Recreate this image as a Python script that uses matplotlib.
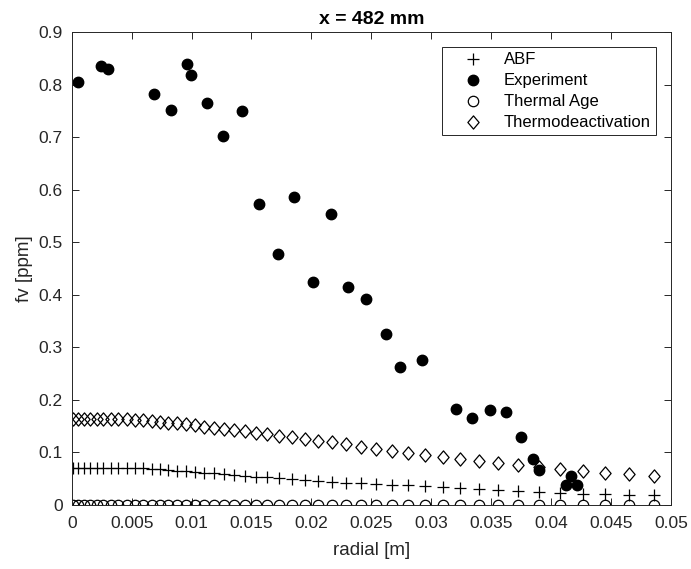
import matplotlib.pyplot as plt
from matplotlib.path import Path

# measured experiment points
exp_r = [0.00055, 0.00242, 0.00305, 0.00684, 0.00828, 0.00959, 0.00995, 0.01129,
         0.01262, 0.01418, 0.01565, 0.01724, 0.01857, 0.02016, 0.02161, 0.02305,
         0.02453, 0.0262, 0.02741, 0.02923, 0.03204, 0.03337, 0.03492, 0.03623,
         0.03749, 0.03849, 0.03899, 0.04121, 0.04166, 0.04218]
exp_fv = [0.806, 0.836, 0.830, 0.783, 0.752, 0.839, 0.818, 0.766,
          0.703, 0.750, 0.573, 0.478, 0.587, 0.425, 0.555, 0.4145,
          0.393, 0.325, 0.262, 0.277, 0.182, 0.166, 0.181, 0.1765,
          0.129, 0.087, 0.066, 0.039, 0.0546, 0.039]

# simulation grid
sim_r = [0.0001, 0.00055, 0.00103, 0.00153, 0.00209, 0.00264, 0.00325, 0.00389,
         0.00459, 0.00528, 0.00598, 0.00667, 0.00737, 0.00806, 0.00881, 0.00954,
         0.01029, 0.01106, 0.01187, 0.01271, 0.01357, 0.01446, 0.01538, 0.01632,
         0.01732, 0.0184, 0.01946, 0.02057, 0.02169, 0.02289, 0.02414, 0.02537,
         0.0267, 0.02808, 0.02948, 0.03095, 0.0324, 0.03398, 0.03559, 0.03726,
         0.03901, 0.04074, 0.04263, 0.04452, 0.04652, 0.04856]
abf = [0.0711, 0.0711, 0.0711, 0.0711, 0.0711, 0.0711, 0.0711, 0.0711,
       0.0711, 0.0708, 0.0698, 0.0690, 0.0679, 0.0666, 0.0654, 0.0640,
       0.0628, 0.0613, 0.0600, 0.0588, 0.0571, 0.0558, 0.0541, 0.0525,
       0.0508, 0.0492, 0.0476, 0.0460, 0.0444, 0.0425, 0.0412, 0.0405,
       0.0390, 0.0374, 0.0362, 0.0343, 0.0330, 0.0305, 0.0286, 0.0267,
       0.0248, 0.0228, 0.0216, 0.0209, 0.0197, 0.0190]
thermal_age = [0.0] * len(sim_r)
thermodeact = [0.1644, 0.1644, 0.1644, 0.1644, 0.1644, 0.1644, 0.1631, 0.1631,
               0.1631, 0.1618, 0.1618, 0.1599, 0.1587, 0.1568, 0.1555, 0.1536,
               0.1517, 0.1492, 0.1473, 0.1454, 0.1428, 0.1403, 0.1378, 0.1352,
               0.1320, 0.1289, 0.1257, 0.1225, 0.1193, 0.1161, 0.1110, 0.1072,
               0.1034, 0.0984, 0.0952, 0.0908, 0.0876, 0.0838, 0.0794, 0.0756,
               0.0718, 0.0685, 0.0647, 0.0615, 0.0584, 0.0552]

xticks = [0, 0.005, 0.01, 0.015, 0.02, 0.025, 0.03, 0.035, 0.04, 0.045, 0.05]
xtick_labels = ['0', '0.005', '0.01', '0.015', '0.02', '0.025', '0.03', '0.035', '0.04', '0.045', '0.05']
yticks = [0, 0.1, 0.2, 0.3, 0.4, 0.5, 0.6, 0.7, 0.8, 0.9]
ytick_labels = ['0', '0.1', '0.2', '0.3', '0.4', '0.5', '0.6', '0.7', '0.8', '0.9']

plt.rcParams['font.family'] = ['Liberation Sans', 'DejaVu Sans']
dark = '#262626'

# matlab style diamond (a bit taller than wide)
diamond = Path([(0, 1), (0.85, 0), (0, -1), (-0.85, 0), (0, 1)],
               [Path.MOVETO, Path.LINETO, Path.LINETO, Path.LINETO, Path.CLOSEPOLY])

fig = plt.figure(figsize=(6.91, 5.69), dpi=100)
ax = fig.add_axes([0.1038, 0.1125, 0.8672, 0.8307])

ax.plot(sim_r, abf, linestyle='none', marker='+', markersize=8, mew=0.9, color='k', label='ABF')
ax.plot(exp_r, exp_fv, linestyle='none', marker='o', markersize=7.5, color='k', label='Experiment')
ax.plot(sim_r, thermal_age, linestyle='none', marker='o', markersize=7.5, mew=0.9,
        mfc='none', color='k', label='Thermal Age')
ax.plot(sim_r, thermodeact, linestyle='none', marker=diamond, markersize=9.5, mew=0.9,
        mfc='none', color='k', label='Thermodeactivation')

ax.set_xlim(0, 0.05)
ax.set_ylim(0, 0.9)
ax.set_xticks(xticks)
ax.set_xticklabels(xtick_labels)
ax.set_yticks(yticks)
ax.set_yticklabels(ytick_labels)
ax.tick_params(direction='in', length=5, width=0.7, top=True, right=True,
               labelsize=12.5, colors=dark)
ax.tick_params(axis='x', pad=8)
ax.tick_params(axis='y', pad=6.5)
for s in ax.spines.values():
    s.set_color(dark)
    s.set_linewidth(0.7)

ax.set_xlabel('radial [m]', fontsize=13.5, color=dark, labelpad=8)
ax.set_ylabel('fv [ppm]', fontsize=13.5, color=dark, labelpad=4)
ax.set_title('x = 482 mm', fontsize=14, fontweight='bold', pad=6)

leg = ax.legend(loc='upper right', bbox_to_anchor=(0.975, 0.968), borderaxespad=0,
                fontsize=12, fancybox=False, framealpha=1, edgecolor=dark,
                handlelength=3.1, handletextpad=0.32, labelspacing=0.36, borderpad=0.3)
leg.get_frame().set_linewidth(0.7)

plt.savefig('out.png', dpi=100)
